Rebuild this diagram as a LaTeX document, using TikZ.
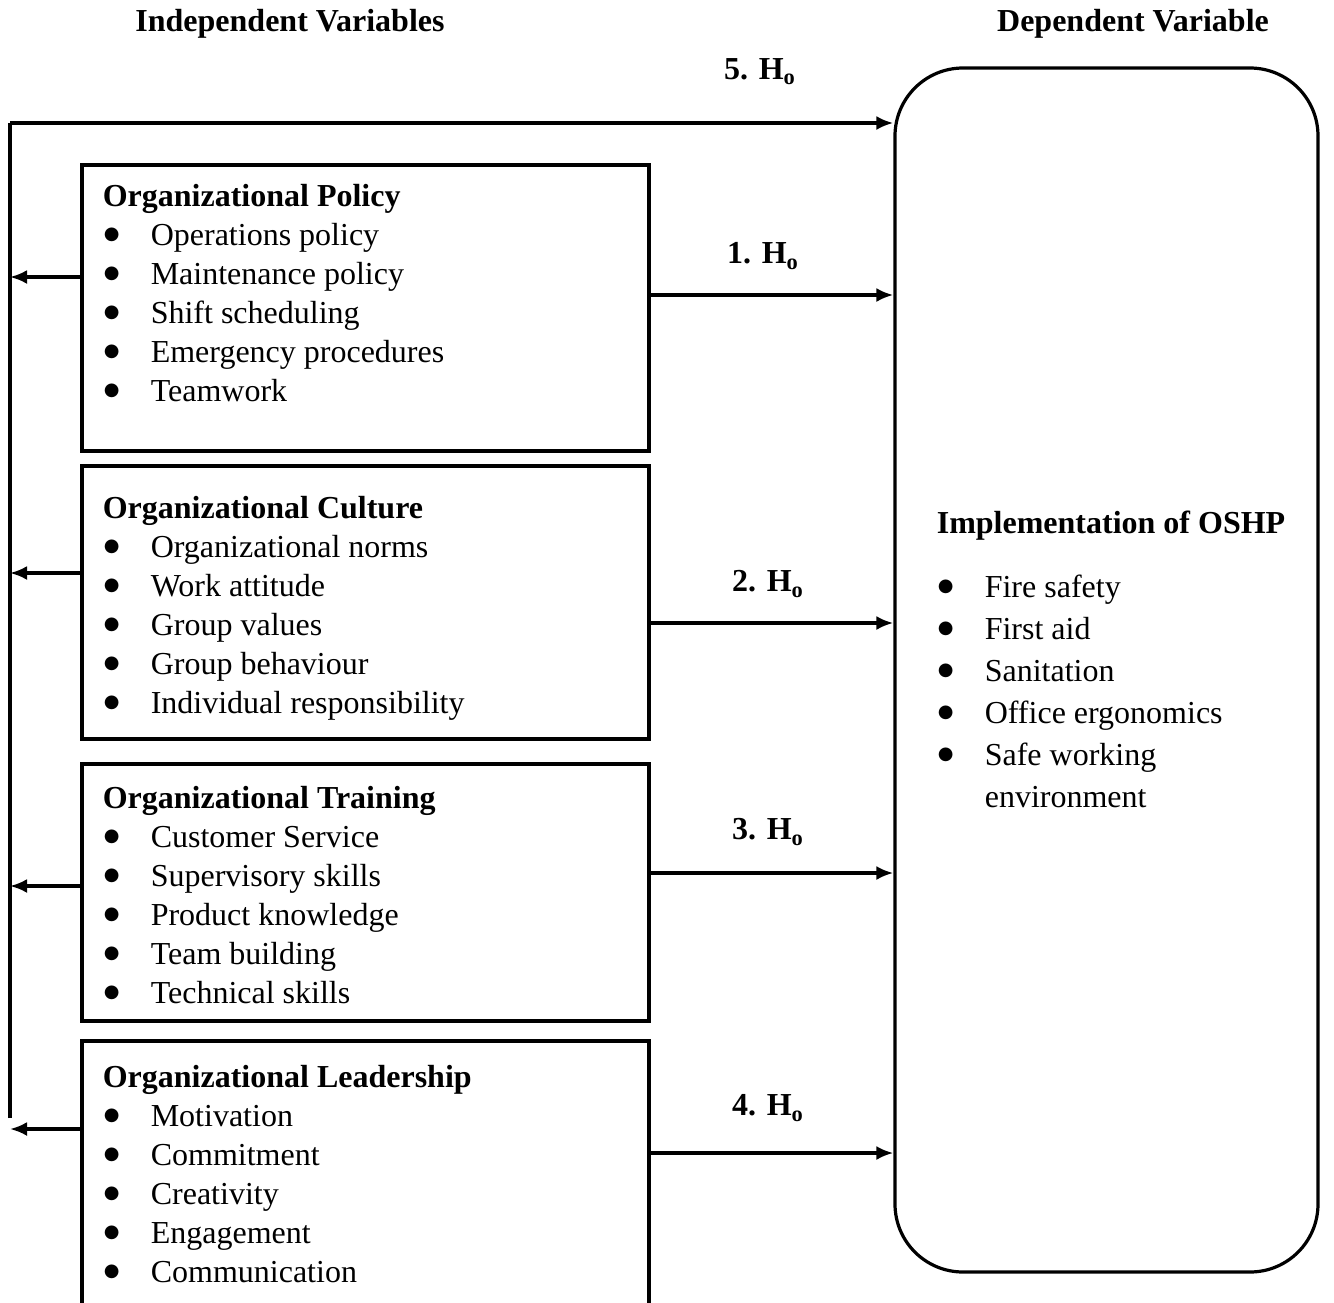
\documentclass[tikz,border=0pt]{standalone}
\usepackage{fontspec}
\setmainfont{Liberation Serif}
\newfontfamily\symfont{DejaVu Sans}
\usetikzlibrary{shapes,arrows,arrows.meta}
\tikzstyle{block} = [rectangle, draw, line width=1.6pt, minimum width=283.5pt, inner sep=0pt]
\tikzstyle{dep} = [rectangle, draw, line width=1.6pt, rounded corners=34pt,
    minimum width=211.5pt, minimum height=602pt, inner sep=0pt]
\tikzstyle{items} = [anchor=north west, inner sep=0pt, align=left,
    font=\fontsize{16}{19.5}\selectfont]
\tikzstyle{hyp} = [font=\fontsize{16}{18}\selectfont\bfseries]
\tikzstyle{line} = [draw, line width=1.6pt, -{Latex[length=8.5pt,width=7pt]}]
\newcommand{\bul}{\makebox[24pt][l]{\hspace*{0.5pt}\raisebox{2.8pt}{\symfont\fontsize{9}{10}\selectfont ●}}}

\begin{document}
\begin{tikzpicture}[x=0.5pt, y=-0.5pt]
        \clip (0,0) rectangle (1334,1302);
        % Place nodes
        % headings
        \node [hyp] (indt) at (290,24) {Independent Variables};
        \node [hyp] (dept) at (1133,24) {Dependent Variable};
        
        % 1. Policy
        \node [block, minimum height=143pt] (pol) at (365.5,308) {};
        \node [items] (polt) at ([shift={(22,20)}]pol.north west)
            {\textbf{Organizational Policy}\\ \bul Operations policy\\ \bul Maintenance policy\\
             \bul Shift scheduling\\ \bul Emergency procedures\\ \bul Teamwork};
        
        % 2. Culture
        \node [block, minimum height=136.5pt] (cul) at (365.5,602.5) {};
        \node [items] (cult) at ([shift={(22,31)}]cul.north west)
            {\textbf{Organizational Culture}\\ \bul Organizational norms\\ \bul Work attitude\\
             \bul Group values\\ \bul Group behaviour\\ \bul Individual responsibility};
        
        % 3. Training
        \node [block, minimum height=128.5pt] (trn) at (365.5,892.5) {};
        \node [items] (trnt) at ([shift={(22,23)}]trn.north west)
            {\textbf{Organizational Training}\\ \bul Customer Service\\ \bul Supervisory skills\\
             \bul Product knowledge\\ \bul Team building\\ \bul Technical skills};
        
        % 4. Leadership (runs off the page)
        \node [block, minimum height=150pt] (ldr) at (365.5,1191) {};
        \node [items] (ldrt) at ([shift={(22,25)}]ldr.north west)
            {\textbf{Organizational Leadership}\\ \bul Motivation\\ \bul Commitment\\
             \bul Creativity\\ \bul Engagement\\ \bul Communication};
        
        % dependent variable
        \node [dep] (oshp) at (1106.5,670) {};
        \node [items, font=\fontsize{16}{21}\selectfont] (oshpt) at ([shift={(43,444)}]oshp.north west)
            {\textbf{Implementation of OSHP}\\[11pt] \bul Fire safety\\ \bul First aid\\
             \bul Sanitation\\ \bul Office ergonomics\\ \bul Safe working\\
             \hspace*{24pt}environment};
        
        % hypotheses
        \node [hyp] (h5) at (760,72) {5. H\textsubscript{o}};
        \node [hyp] (h1) at (763,256) {1. H\textsubscript{o}};
        \node [hyp] (h2) at (768,584) {2. H\textsubscript{o}};
        \node [hyp] (h3) at (768,832) {3. H\textsubscript{o}};
        \node [hyp] (h4) at (768,1108) {4. H\textsubscript{o}};
        
        % left rail
        \coordinate (top) at (10,123);
        \coordinate (bot) at (10,1118);
        
        % Draw edges
        \draw [line width=1.6pt] (bot) -- (top);
        \path [line] (top) -- (top -| oshp.west);
        \path [line] ([shift={(0,-13)}]pol.east) coordinate (r1) -- (r1 -| oshp.west);
        \path [line] ([shift={(0,20.5)}]cul.east) coordinate (r2) -- (r2 -| oshp.west);
        \path [line] ([shift={(0,-19.5)}]trn.east) coordinate (r3) -- (r3 -| oshp.west);
        \path [line] ([shift={(0,-38)}]ldr.east) coordinate (r4) -- (r4 -| oshp.west);
        \path [line] ([shift={(0,-31)}]pol.west) coordinate (l1) -- (l1 -| bot);
        \path [line] ([shift={(0,-29.5)}]cul.west) coordinate (l2) -- (l2 -| bot);
        \path [line] ([shift={(0,-6.5)}]trn.west) coordinate (l3) -- (l3 -| bot);
        \path [line] ([shift={(0,-62)}]ldr.west) coordinate (l4) -- (l4 -| bot);
        
      \end{tikzpicture}
\end{document}
